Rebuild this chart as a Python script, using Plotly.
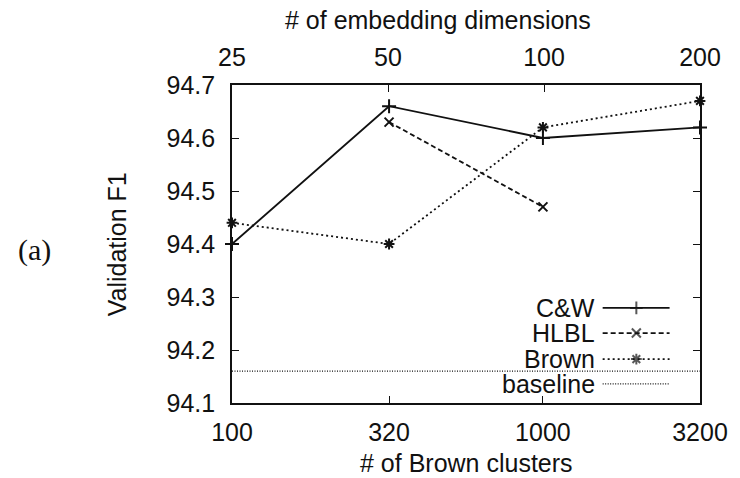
import math
import plotly.graph_objects as go

# ---- data ----
brown_clusters = [100, 320, 1000, 3200]
embed_dims = [25, 50, 100, 200]
cw = [94.40, 94.66, 94.60, 94.62]
hlbl = [None, 94.63, 94.47, None]
brown = [94.44, 94.40, 94.62, 94.67]
baseline = 94.16
y_ticks = [94.1, 94.2, 94.3, 94.4, 94.5, 94.6, 94.7]

FONT = "Liberation Sans, Arial, Helvetica, sans-serif"
BLACK = "#111111"

fig = go.Figure()

series = [
    ("C&W", cw, "solid", "cross-thin-open", 10),
    ("HLBL", hlbl, "5px,3px", "x-thin-open", 9),
    ("Brown", brown, "2px,3px", "asterisk-open", 9),
]
for name, vals, dash, sym, ms in series:
    fig.add_trace(go.Scatter(
        x=brown_clusters, y=vals, name=name, mode="lines+markers",
        line=dict(color=BLACK, width=1.8, dash=dash),
        marker=dict(symbol=sym, size=ms, line=dict(color=BLACK, width=2)),
        showlegend=False, cliponaxis=False, connectgaps=False,
    ))

# baseline across the full x range
fig.add_trace(go.Scatter(
    x=[brown_clusters[0], brown_clusters[-1]], y=[baseline, baseline],
    mode="lines", line=dict(color=BLACK, width=1.3, dash="1px,1.5px"),
    showlegend=False,
))

# ---- custom legend (text right-aligned, sample on right) ----
leg_names = ["C&W", "HLBL", "Brown", "baseline"]
leg_dash = ["solid", "5px,3px", "2px,3px", "1px,1.5px"]
leg_sym = ["cross-thin-open", "x-thin-open", "asterisk-open", None]
leg_y = [0.299, 0.220, 0.138, 0.060]
sx0, sxm, sx1, tx = 0.792, 0.864, 0.935, 0.778
for nm, d, s, yy in zip(leg_names, leg_dash, leg_sym, leg_y):
    fig.add_trace(go.Scatter(
        x=[sx0, sxm, sx1], y=[yy, yy, yy], xaxis="x3", yaxis="y3",
        mode="lines+markers" if s else "lines",
        line=dict(color=BLACK, width=1.8 if s else 1.3, dash=d),
        marker=dict(symbol=s or "circle", size=[0, 9, 0],
                    line=dict(color=BLACK, width=2)),
        showlegend=False, hoverinfo="skip",
    ))
    fig.add_annotation(x=tx, y=yy, xref="x3", yref="y3", text=nm,
                       showarrow=False, xanchor="right", yanchor="middle",
                       borderpad=0,
                       font=dict(family=FONT, size=25, color=BLACK))

# ---- titles ----
title_font = dict(family=FONT, size=25, color=BLACK)
fig.add_annotation(x=0.44, y=1.204, xref="paper", yref="paper",
                   xanchor="center", yanchor="middle",
                   text="# of embedding dimensions", showarrow=False,
                   font=title_font)
fig.add_annotation(x=0.5, y=-0.19, xref="paper", yref="paper",
                   xanchor="center", yanchor="middle",
                   text="# of Brown clusters", showarrow=False,
                   font=title_font)
fig.add_annotation(x=-0.245, y=0.5, xref="paper", yref="paper",
                   xanchor="center", yanchor="middle",
                   text="Validation F1", showarrow=False, textangle=-90,
                   font=title_font)
fig.add_annotation(x=-0.421, y=0.481, xref="paper", yref="paper",
                   xanchor="center", yanchor="middle",
                   text="(a)", showarrow=False,
                   font=dict(family="Liberation Serif, Times New Roman, serif",
                             size=30, color=BLACK))

axis_common = dict(showgrid=False, zeroline=False, linecolor=BLACK,
                   linewidth=1.6, ticks="inside", ticklen=7, tickwidth=1.4,
                   tickcolor=BLACK,
                   tickfont=dict(family=FONT, size=25, color=BLACK))

fig.update_layout(
    width=740, height=478,
    margin=dict(l=232, r=31, t=85, b=75),
    plot_bgcolor="white", paper_bgcolor="white",
    xaxis=dict(type="log", range=[math.log10(brown_clusters[0]), math.log10(brown_clusters[-1])],
               tickvals=brown_clusters, ticktext=[str(v) for v in brown_clusters],
               mirror=True, showline=True, ticklabelstandoff=6, **axis_common),
    xaxis2=dict(type="log", range=[math.log10(embed_dims[0]), math.log10(embed_dims[-1])],
                tickvals=embed_dims, ticktext=[str(v) for v in embed_dims],
                overlaying="x", side="top", anchor="y", showline=False,
                ticklabelstandoff=13, **axis_common),
    yaxis=dict(range=[y_ticks[0], y_ticks[-1]], tickvals=y_ticks,
               ticktext=[f"{v:.1f}" for v in y_ticks],
               mirror="ticks", showline=True, ticklabelstandoff=10, **axis_common),
    xaxis3=dict(range=[0, 1], overlaying="x", visible=False, anchor="y3"),
    yaxis3=dict(range=[0, 1], overlaying="y", visible=False, anchor="x3"),
)
# dummy trace to activate the top axis
fig.add_trace(go.Scatter(x=embed_dims, y=[None] * 4, xaxis="x2",
                         showlegend=False, hoverinfo="skip"))

fig.write_html("out.html")
